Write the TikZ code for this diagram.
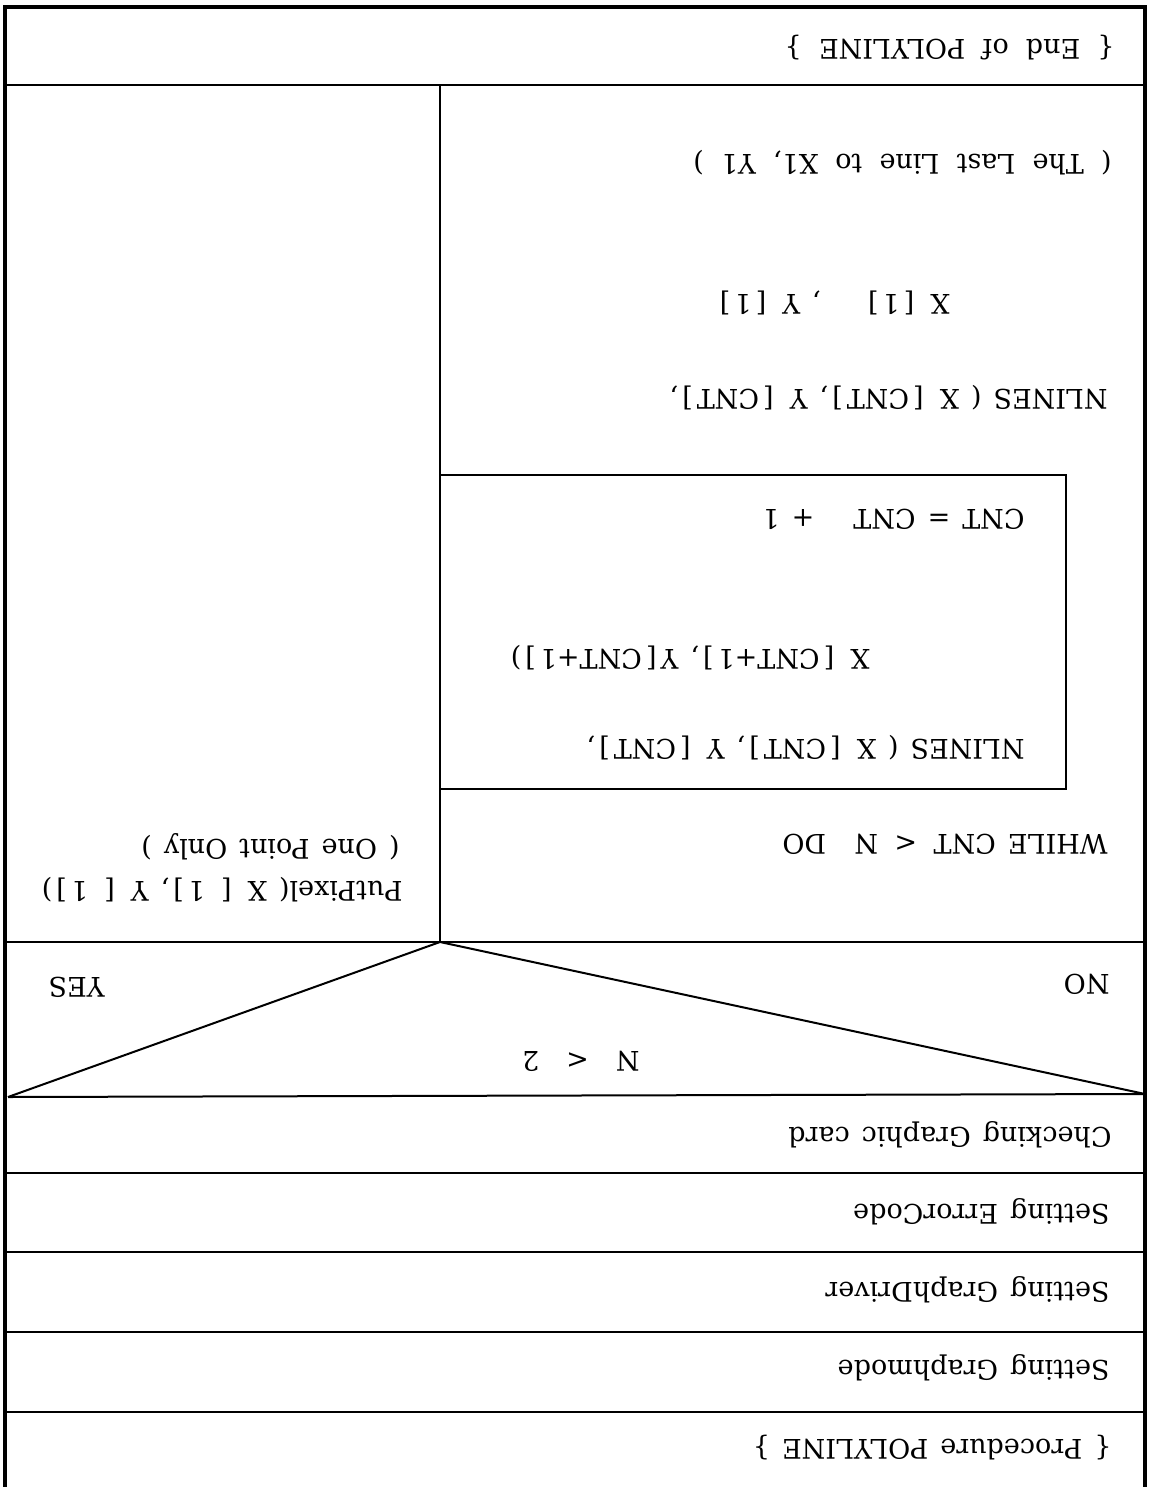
\documentclass[tikz,border=0pt]{standalone}
\usepackage{fontspec}
\setmainfont{DejaVu Serif}[WordSpace=1.4]
\newfontfamily\widespaced{DejaVu Serif}[WordSpace=2.0]
% square brackets set a little apart from their contents
\newcommand\obr{\kern0.15em[\kern0.15em}
\newcommand\cbr{\kern0.15em]\kern0.15em}
\begin{document}
\begin{tikzpicture}[x=0.5pt,y=-0.5pt,
  frame/.style={line width=2pt},
  rule/.style={line width=1pt},
  loopbox/.style={line width=0.7pt},
  lbl/.style={rotate=180, anchor=mid west, inner sep=0pt,
              font=\fontsize{13.5}{16}\selectfont}]
\useasboundingbox (0,0) rectangle (1155,1487);

% frame corners and division points
\coordinate (tl) at (5,7);
\coordinate (tr) at (1145,7);
\coordinate (bl) at (5,1487);
\coordinate (br) at (1145,1487);
\coordinate (apex) at (440,942);
\coordinate (split) at (440,85);
\coordinate (triL) at (8,1097);
\coordinate (triR) at (1145,1094);

% outer frame (open at the bottom)
\draw[frame] (bl) -- (tl) -- (tr) -- (br);

% horizontal rules
\draw[rule] (5,85) -- (1145,85);
\draw[rule] (5,942) -- (1145,942);
\draw[rule] (triL) -- (triR);
\draw[rule] (5,1173) -- (1145,1173);
\draw[rule] (5,1252) -- (1145,1252);
\draw[rule] (5,1332) -- (1145,1332);
\draw[rule] (5,1412) -- (1145,1412);

% branch split and decision triangle
\draw[rule] (split) -- (apex);
\draw[rule] (triL) -- (apex) -- (triR);

% loop body
\draw[loopbox] (440,475) -- (1066,475) -- (1066,789) -- (440,789);

% labels
\node[lbl] (endp) at (1115,45) {\widespaced\{ End of POLYLINE \}};
\node[lbl] (last) at (1112,160) {\widespaced( The Last Line to X1, Y1 )};
\node[lbl] (nl2b) at (950,300) {X \obr1\cbr\hspace{1.6em}, Y \obr1\cbr};
\node[lbl] (nl2a) at (1108,395) {NLINES ( X \obr CNT\cbr, Y \obr CNT\cbr,};
\node[lbl] (inc) at (1025,515) {CNT = CNT\hspace{1em} + 1};
\node[lbl] (nl1b) at (870,655) {X \obr CNT+1\cbr, Y\obr CNT+1\cbr)};
\node[lbl] (nl1a) at (1025,745) {NLINES ( X \obr CNT\cbr, Y \obr CNT\cbr,};
\node[lbl] (while) at (1108,840) {WHILE CNT \,<\, N\hspace{0.6em} DO};
\node[lbl] (onep) at (400,845) {( One Point Only )};
\node[lbl] (putp) at (403,887) {PutPixel( X \obr\ 1\cbr, Y \obr\ 1\cbr)};
\node[lbl] (no) at (1110,980) {NO};
\node[lbl] (yes) at (105,983) {YES};
\node[lbl] (cond) at (640,1057) {N\hspace{1em}<\hspace{1em}2};
\node[lbl] (chk) at (1112,1133) {Checking Graphic card};
\node[lbl] (err) at (1110,1210) {Setting ErrorCode};
\node[lbl] (drv) at (1110,1288) {Setting GraphDriver};
\node[lbl] (mode) at (1110,1366) {Setting Graphmode};
\node[lbl] (proc) at (1112,1445) {\{ Procedure POLYLINE \}};
\end{tikzpicture}
\end{document}
